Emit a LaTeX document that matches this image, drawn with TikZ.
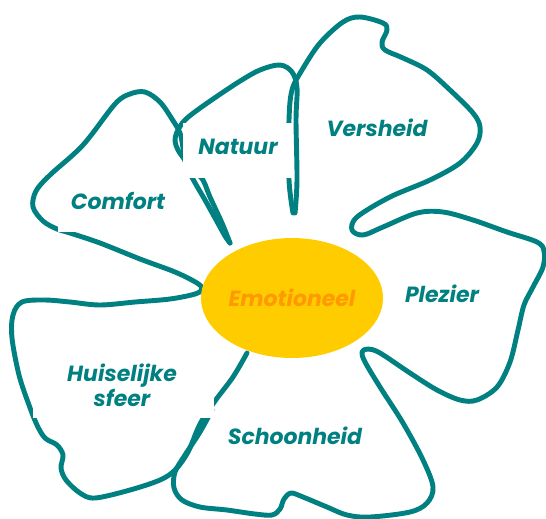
\documentclass[tikz,border=0pt]{standalone}
\usepackage{fontspec}
\setmainfont{Poppins}
\usetikzlibrary{shapes.geometric}
\definecolor{petalgreen}{RGB}{0,128,128}
\definecolor{heartyellow}{RGB}{255,204,0}
\definecolor{heartorange}{RGB}{255,153,0}
\begin{document}
\begin{tikzpicture}[x=0.02cm, y=-0.02cm,
    outline/.style={petalgreen, line width=2.8pt, line cap=round, line join=round},
    word/.style={petalgreen, font=\fontsize{12.5}{14}\selectfont\bfseries\itshape}]
    \useasboundingbox (0,0) rectangle (546,518);

    % Comfort and Huiselijke sfeer
    \draw[outline] plot[smooth, tension=0.55] coordinates {
        (230,243) (225,236) (215,218) (205,200) (194,181) (186,165) (183,148)
        (180,133) (172,119) (160,102) (145,92) (130,94) (115,104) (83,145)
        (50,175) (36,191) (33,207) (43,221) (57,229) (70,233) (100,243)
        (140,259) (175,272) (197,283) (202,289) (195,294) (170,299) (135,302)
        (100,305) (70,302) (45,300) (22,302) (13,315) (12,338) (19,375)
        (29,405) (37,425) (45,438) (57,445) (63,455) (61,468) (66,480)
        (80,493) (95,498) (130,490) (160,480) (175,470) (188,452) (200,424)
        (215,401) (233,377) (247,353)};

    % Schoonheid, Plezier and Versheid
    \draw[outline] plot[smooth, tension=0.55] coordinates {
        (212,410) (200,432) (185,455) (175,472) (174,488) (182,500) (200,507)
        (227,510) (255,514) (272,515) (280,509) (284,499) (291,493) (303,497)
        (327,507) (347,515) (370,517) (410,512) (427,503) (433,487) (423,460)
        (403,423) (380,387) (365,362) (362,352) (368,349) (380,353) (410,373)
        (437,390) (460,400) (477,400) (497,387) (510,362) (518,330) (524,305)
        (533,287) (543,267) (544,251) (537,242) (507,232) (473,220) (443,212)
        (417,213) (383,227) (363,235) (352,230) (357,217) (390,197) (430,180)
        (460,163) (477,143) (480,127) (473,113) (450,90) (427,70) (403,58)
        (385,50) (382,42) (387,30) (383,23) (360,17) (343,22) (320,43)
        (302,70) (292,90) (289,120) (289,180) (293,213)};

    % Natuur
    \draw[outline] plot[smooth, tension=0.55] coordinates {
        (295,213) (297,180) (296,120) (297,88) (292,72) (280,65) (260,70)
        (237,83) (203,106) (185,120) (177,132) (175,141) (178,150) (185,160)
        (195,172) (203,180) (210,197) (222,223) (230,243)};

    % white boxes behind the labels
    \fill[white] (183,123) rectangle (292,178);
    \fill[white] (58,175) rectangle (175,232);
    \fill[white] (33,340) rectangle (214,418);

    \node[ellipse, fill=heartyellow, minimum width=3.64cm, minimum height=2.4cm,
        inner sep=0pt, text=heartorange, font=\fontsize{12.5}{14}\selectfont\bfseries\itshape]
        (heart) at (292,298) {Emotioneel};

    \node[word] (natuur) at (238,147) {Natuur};
    \node[word] (versheid) at (377,128) {Versheid};
    \node[word] (comfort) at (118,201) {Comfort};
    \node[word] (plezier) at (442,294) {Plezier};
    \node[word, align=center] (huiselijk) at (122,385) {Huiselijke\\sfeer};
    \node[word] (schoonheid) at (295,436) {Schoonheid};
\end{tikzpicture}
\end{document}
